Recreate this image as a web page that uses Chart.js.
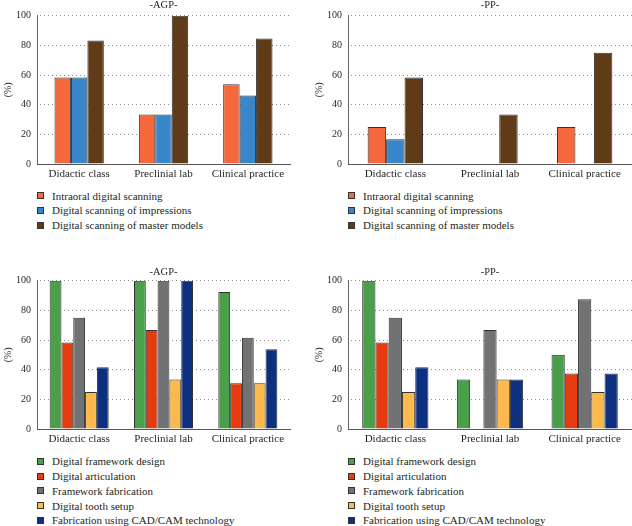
<!DOCTYPE html>
<html>
<head>
<meta charset="utf-8">
<script src="https://cdn.jsdelivr.net/npm/chart.js@4.4.1/dist/chart.umd.min.js"></script>
<style>
  body { margin: 0; background: #fff; width: 632px; height: 526px; overflow: hidden; position: relative; font-family: "Liberation Serif", "Times New Roman", serif; }
  canvas { position: absolute; }
  .legend { position: absolute; font-size: 11px; color: #231f20; }
  .legend .row { display: flex; align-items: center; height: 14.8px; white-space: nowrap; }
  .legend .box { width: 7px; height: 7px; box-sizing: border-box; border: 1px solid #333; margin-right: 8px; }
</style>
</head>
<body>
<canvas id="scanAgp" width="300" height="187" style="left:0px; top:-1px;"></canvas>
<canvas id="scanPp" width="321" height="187" style="left:311px; top:-1px;"></canvas>
<canvas id="techAgp" width="300" height="185" style="left:0px; top:266px;"></canvas>
<canvas id="techPp" width="321" height="185" style="left:311px; top:266px;"></canvas>
<div class="legend" id="legScanAgp" style="left:37px; top:188.3px;"></div>
<div class="legend" id="legScanPp" style="left:348px; top:188.3px;"></div>
<div class="legend" id="legTechAgp" style="left:37px; top:453.9px;"></div>
<div class="legend" id="legTechPp" style="left:348px; top:453.9px;"></div>
<script>
// Categories and tick labels
const categories = ['Didactic class', 'Preclinial lab', 'Clinical practice'];
const yTicks = [0, 20, 40, 60, 80, 100];

// Scanning techniques
const scanLabels = ['Intraoral digital scanning', 'Digital scanning of impressions', 'Digital scanning of master models'];
const scanColors = ['#F4683C', '#3A86CB', '#603B17'];
const agpIntraoral = [58.3, 33.3, 53.8];
const agpImpressions = [58.3, 33.3, 46.2];
const agpMasterModels = [83.3, 100, 84.6];
const ppIntraoral = [25, 0, 25];
const ppImpressions = [16.7, 0, 0];
const ppMasterModels = [58.3, 33.3, 75];

// CAD/CAM procedures
const techLabels = ['Digital framework design', 'Digital articulation', 'Framework fabrication', 'Digital tooth setup', 'Fabrication using CAD/CAM technology'];
const techColors = ['#4AA04A', '#E63B0F', '#707274', '#FDB94C', '#0D2F80'];
const agpFrameworkDesign = [100, 100, 92.3];
const agpArticulation = [58.3, 66.7, 30.8];
const agpFrameworkFab = [75, 100, 61.5];
const agpToothSetup = [25, 33.3, 30.8];
const agpCadCam = [41.7, 100, 53.8];
const ppFrameworkDesign = [100, 33.3, 50];
const ppArticulation = [58.3, 0, 37.5];
const ppFrameworkFab = [75, 66.7, 87.5];
const ppToothSetup = [25, 33.3, 25];
const ppCadCam = [41.7, 33.3, 37.5];

const textColor = '#231f20';
const serif = '"Liberation Serif", "Times New Roman", serif';

// dotted grid: line dashes do not show here, so stroke with a dot pattern
function dotPattern(ctx) {
    const p = document.createElement('canvas');
    p.width = 4;
    p.height = 1;
    const pc = p.getContext('2d');
    pc.fillStyle = '#8a8a8a';
    pc.fillRect(0, 0, 1, 1);
    return ctx.createPattern(p, 'repeat');
}

function makeChart(id, title, titlePad, labels, series, colors, catPct, rightPad) {
    const ctx = document.getElementById(id).getContext('2d');
    return new Chart(ctx, {
        type: 'bar',
        data: {
            labels: categories,
            datasets: series.map((s, i) => ({
                label: labels[i],
                data: s,
                backgroundColor: colors[i],
                borderColor: '#333',
                borderWidth: 1,
                barPercentage: 1,
                categoryPercentage: catPct
            }))
        },
        options: {
            responsive: false,
            animation: false,
            layout: { padding: { left: 0, right: rightPad, top: 0, bottom: 0 } },
            plugins: {
                legend: { display: false },
                tooltip: { enabled: false },
                title: {
                    display: true,
                    text: title,
                    fullSize: false,
                    color: textColor,
                    font: { family: serif, size: 10.5, weight: 'normal', lineHeight: 1.2 },
                    padding: { top: 0, bottom: titlePad }
                }
            },
            scales: {
                x: {
                    grid: { display: false, drawTicks: false },
                    border: { display: true, color: '#555', width: 1, z: 1 },
                    ticks: { color: textColor, font: { family: serif, size: 11 }, padding: 4 },
                    afterFit: scale => { scale.height = 22; }
                },
                y: {
                    min: 0,
                    max: 100,
                    afterBuildTicks: scale => { scale.ticks = yTicks.map(v => ({ value: v })); },
                    grid: { display: true, color: dotPattern(ctx), lineWidth: 1, drawTicks: false },
                    border: { display: true, color: '#666', width: 1 },
                    ticks: { color: textColor, font: { family: serif, size: 10 }, padding: 6 },
                    title: {
                        display: true,
                        text: '(%)',
                        color: textColor,
                        font: { family: serif, size: 10 },
                        padding: { top: 2, bottom: 0 }
                    },
                    afterFit: scale => { scale.width = 37; }
                }
            }
        }
    });
}

function buildLegend(chart, elId) {
    const el = document.getElementById(elId);
    chart.data.datasets.forEach(ds => {
        const row = document.createElement('div');
        row.className = 'row';
        row.innerHTML = `<span class="box" style="background:${ds.backgroundColor}"></span><span>${ds.label}</span>`;
        el.appendChild(row);
    });
}

function drawAll() {
    const c1 = makeChart('scanAgp', '-AGP-', 4.1, scanLabels,
        [agpIntraoral, agpImpressions, agpMasterModels], scanColors, 0.585, 10);
    const c2 = makeChart('scanPp', '-PP-', 4.1, scanLabels,
        [ppIntraoral, ppImpressions, ppMasterModels], scanColors, 0.585, 0);
    const c3 = makeChart('techAgp', '-AGP-', 2.1, techLabels,
        [agpFrameworkDesign, agpArticulation, agpFrameworkFab, agpToothSetup, agpCadCam], techColors, 0.70, 10);
    const c4 = makeChart('techPp', '-PP-', 2.1, techLabels,
        [ppFrameworkDesign, ppArticulation, ppFrameworkFab, ppToothSetup, ppCadCam], techColors, 0.70, 0);

    buildLegend(c1, 'legScanAgp');
    buildLegend(c2, 'legScanPp');
    buildLegend(c3, 'legTechAgp');
    buildLegend(c4, 'legTechPp');
}

// wait for the serif font so the canvas text does not fall back
Promise.all([
    document.fonts.load('10px "Liberation Serif"'),
    document.fonts.load('11px "Liberation Serif"')
]).then(drawAll, drawAll);
</script>
</body>
</html>
